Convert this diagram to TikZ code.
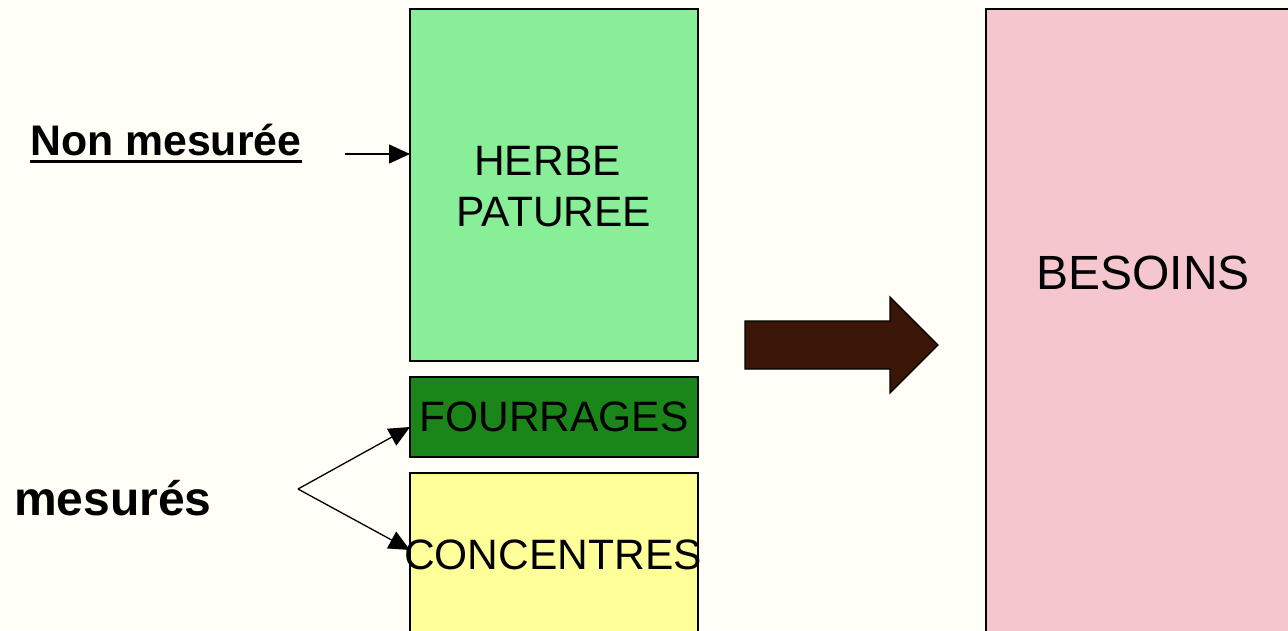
\documentclass[tikz,border=0pt]{standalone}
\usepackage{fontspec}
\setmainfont{Liberation Sans}
\usetikzlibrary{arrows.meta}
\definecolor{bgc}{RGB}{255,255,247}
\definecolor{herbec}{RGB}{136,238,152}
\definecolor{fourc}{RGB}{26,134,26}
\definecolor{concc}{RGB}{255,255,153}
\definecolor{besc}{RGB}{246,198,206}
\definecolor{arrc}{RGB}{58,22,6}
\tikzset{
  boxst/.style={draw=black, line width=1.4pt, rectangle, inner sep=0pt, outer sep=0pt},
  txt/.style={inner sep=0pt, align=center, font=\fontsize{42.5}{51}\selectfont},
  lbl/.style={inner sep=0pt, font=\bfseries},
  conn/.style={line width=1.3pt, -{Triangle[length=21pt,width=19pt]}},
}
\begin{document}
\begin{tikzpicture}[x=1pt,y=-1pt]
\useasboundingbox (0,0) rectangle (1288,630);
\clip (0,0) rectangle (1288,630);
\fill[bgc] (0,0) rectangle (1288,630);
\node[boxst, fill=herbec, minimum width=288pt, minimum height=352pt] (herbe) at (554,185) {};
\node[txt] (herbetxt) at (554,187) {HERBE\hspace*{13pt}\\PATUREE};
\node[boxst, fill=fourc, minimum width=288pt, minimum height=80pt] (fourr) at (554,417) {};
\node[txt] (fourrtxt) at (554,417) {FOURRAGES};
\node[boxst, fill=concc, minimum width=288pt, minimum height=164pt] (conc) at (554,555) {};
\node[txt] (conctxt) at (553,555) {CONCENTRES};
\node[boxst, fill=besc, minimum width=400pt, minimum height=700pt, anchor=north west] (besoins) at (986,9) {};
\node[inner sep=0pt, font=\fontsize{48}{56}\selectfont] (besoinstxt) at (1143,273) {BESOINS};
\filldraw[fill=arrc, draw=black, line width=1.3pt]
  (745,321) -- (890,321) -- (890,297) -- (938,345) -- (890,393) -- (890,369) -- (745,369) -- cycle;
\node[lbl, font=\fontsize{42.8}{50}\selectfont\bfseries, anchor=base west] (nonmes) at (30,155) {Non mesurée};
\draw[line width=3pt] ([yshift=-6.5pt]nonmes.base west) -- ([yshift=-6.5pt]nonmes.base east);
\node[lbl, font=\fontsize{48}{56}\selectfont\bfseries, anchor=base west] (mesures) at (14,515) {mesurés};
\coordinate (nmstart) at (345,154);
\draw[conn] (nmstart) -- (nmstart -| herbe.west);
\coordinate (fork) at (298,489);
\draw[conn] (fork) -- (fourr.west |- 0,427);
\draw[conn] (fork) -- (conc.west |- 0,550);
\end{tikzpicture}
\end{document}
